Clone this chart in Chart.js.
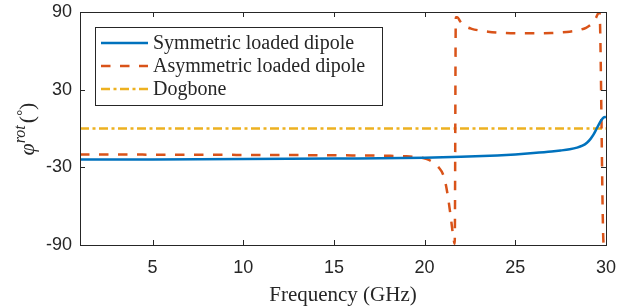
<!DOCTYPE html>
<html>
<head>
<meta charset="utf-8">
<script src="https://cdn.jsdelivr.net/npm/chart.js@4.4.1/dist/chart.umd.min.js"></script>
<style>
  html, body { margin: 0; padding: 0; background: #fff; }
  canvas { display: block; }
</style>
</head>
<body>
<canvas id="rotChart" width="638" height="308"></canvas>
<script>
// values (frequency in GHz, rotation angle in degrees)
const symFreq  = [1, 5, 10, 15, 20, 22, 24, 25, 26, 27, 27.5, 28, 28.4, 28.7, 28.95, 29.15, 29.3, 29.45, 29.6, 29.75, 29.87, 30];
const symPhase = [-24, -23.9, -23.6, -23.2, -22.6, -21.9, -20.8, -20, -19, -17.8, -17, -16, -14.8, -13.3, -11, -8, -5, -1, 3, 6.5, 8.5, 9];

const asymFreq  = [1, 3, 5, 8, 10, 12, 14, 16, 18, 19, 19.5, 19.9, 20.2, 20.5, 20.8, 21.0, 21.15, 21.3, 21.4, 21.5, 21.58, 21.66,
                   21.72, 21.8, 21.95, 22.1, 22.3, 22.6, 23, 23.5, 24, 25, 26, 27, 27.5, 28, 28.5, 28.9, 29.1, 29.3, 29.45, 29.55, 29.64, 29.87, 30];
const asymPhase = [-20, -20.1, -20.2, -20.3, -20.4, -20.5, -20.6, -20.8, -21.1, -21.5, -22, -22.8, -24, -26.5, -30.5, -35, -42, -54, -64, -75, -84, -89,
                   86, 86, 83, 80.5, 78.5, 77, 75.8, 74.8, 74.2, 73.6, 73.5, 73.8, 74.2, 74.8, 76, 77.8, 79.5, 82, 85.5, 88.5, 90, -89, -90];

const dogFreq  = [1, 30];
const dogPhase = [0, 0];

const xTicks = [5, 10, 15, 20, 25, 30];
const yTicks = [-90, -30, 30, 90];

const seriesNames = ['Symmetric loaded dipole', 'Asymmetric loaded dipole', 'Dogbone'];
const seriesColors = ['#0072BD', '#D95319', '#EDB120'];
const seriesDash = [[], [9.5, 9.5], [9, 3.5, 3, 3.5]];

const axisColor = '#262626';

function toPoints(xs, ys) {
    return xs.map((x, i) => ({ x: x, y: ys[i] }));
}

// box around the axes plus inward tick marks on all four sides
const boxPlugin = {
    id: 'matlabBox',
    afterDatasetsDraw(chart) {
        const ctx = chart.ctx;
        const a = chart.chartArea;
        const xs = chart.scales.x;
        const ys = chart.scales.y;
        const tl = 5;
        ctx.save();
        ctx.strokeStyle = axisColor;
        ctx.lineWidth = 1;
        ctx.beginPath();
        xTicks.forEach(v => {
            const px = Math.round(xs.getPixelForValue(v)) + 0.5;
            ctx.moveTo(px, a.bottom); ctx.lineTo(px, a.bottom - tl);
            ctx.moveTo(px, a.top); ctx.lineTo(px, a.top + tl);
        });
        yTicks.forEach(v => {
            const py = Math.round(ys.getPixelForValue(v)) + 0.5;
            ctx.moveTo(a.left, py); ctx.lineTo(a.left + tl, py);
            ctx.moveTo(a.right, py); ctx.lineTo(a.right - tl, py);
        });
        ctx.stroke();
        ctx.strokeRect(Math.round(a.left) + 0.5, Math.round(a.top) + 0.5,
                       Math.round(a.right - a.left), Math.round(a.bottom - a.top));
        ctx.restore();
    }
};

// legend box in the upper-left corner of the axes
const legendPlugin = {
    id: 'boxLegend',
    afterDraw(chart) {
        const ctx = chart.ctx;
        const left = 95, top = 27, w = 287, h = 78;
        const rows = [43, 66, 89];
        ctx.save();
        ctx.fillStyle = '#fff';
        ctx.fillRect(left, top, w, h);
        ctx.strokeStyle = axisColor;
        ctx.lineWidth = 1;
        ctx.strokeRect(left + 0.5, top + 0.5, w, h);
        seriesNames.forEach((name, i) => {
            ctx.strokeStyle = seriesColors[i];
            ctx.lineWidth = 2.5;
            ctx.setLineDash(seriesDash[i]);
            ctx.beginPath();
            ctx.moveTo(101, rows[i]);
            ctx.lineTo(148, rows[i]);
            ctx.stroke();
            ctx.setLineDash([]);
            ctx.fillStyle = axisColor;
            ctx.font = '20px "Liberation Serif", "Times New Roman", serif';
            ctx.textBaseline = 'middle';
            ctx.textAlign = 'left';
            ctx.fillText(name, 153, rows[i] + 1);
        });
        ctx.restore();
    }
};

// y label: phi^rot (degree), rotated
const yLabelPlugin = {
    id: 'yLabel',
    afterDraw(chart) {
        const ctx = chart.ctx;
        const big = '22px "Liberation Serif", "Times New Roman", serif';
        const bigIt = 'italic 22px "Liberation Serif", "Times New Roman", serif';
        const smallIt = 'italic 16px "Liberation Serif", "Times New Roman", serif';
        const small = '15px "Liberation Serif", "Times New Roman", serif';
        const parts = [
            { t: '\u03C6', f: bigIt, dy: 0 },
            { t: 'rot', f: smallIt, dy: -9 },
            { t: '(', f: big, dy: 0 },
            { t: '\u00B0', f: small, dy: -7 },
            { t: ')', f: big, dy: 0 }
        ];
        ctx.save();
        let total = 0;
        parts.forEach(p => { ctx.font = p.f; p.w = ctx.measureText(p.t).width; total += p.w; });
        total += 2;
        ctx.translate(34, 129 + total / 2);
        ctx.rotate(-Math.PI / 2);
        ctx.fillStyle = axisColor;
        ctx.textBaseline = 'alphabetic';
        let x = 0;
        parts.forEach((p, i) => {
            ctx.font = p.f;
            ctx.fillText(p.t, x, p.dy);
            x += p.w + (i === 1 ? 2 : 0);
        });
        ctx.restore();
    }
};

const ctx = document.getElementById('rotChart').getContext('2d');
const rotChart = new Chart(ctx, {
    type: 'line',
    data: {
        datasets: [
            {
                label: seriesNames[0],
                data: toPoints(symFreq, symPhase),
                borderColor: seriesColors[0],
                borderWidth: 2.5,
                borderDash: seriesDash[0],
                pointRadius: 0,
                cubicInterpolationMode: 'monotone',
                fill: false
            },
            {
                label: seriesNames[1],
                data: toPoints(asymFreq, asymPhase),
                borderColor: seriesColors[1],
                borderWidth: 2.5,
                borderDash: seriesDash[1],
                pointRadius: 0,
                cubicInterpolationMode: 'monotone',
                fill: false
            },
            {
                label: seriesNames[2],
                data: toPoints(dogFreq, dogPhase),
                borderColor: seriesColors[2],
                borderWidth: 2.5,
                borderDash: seriesDash[2],
                pointRadius: 0,
                fill: false
            }
        ]
    },
    options: {
        responsive: false,
        animation: false,
        devicePixelRatio: 1,
        layout: { padding: { top: 12, right: 32, bottom: 0, left: 0 } },
        plugins: {
            legend: { display: false },
            tooltip: { enabled: false }
        },
        scales: {
            x: {
                type: 'linear',
                min: 1,
                max: 30,
                grid: { display: false, drawTicks: false },
                border: { display: false },
                afterBuildTicks: scale => { scale.ticks = xTicks.map(v => ({ value: v })); },
                afterFit: scale => {
                    scale.height = 63;
                    scale.paddingLeft = 0;
                    scale.paddingRight = 0;
                },
                ticks: {
                    padding: 12,
                    color: axisColor,
                    font: { family: '"Liberation Sans", Arial, sans-serif', size: 18 }
                },
                title: {
                    display: true,
                    text: 'Frequency (GHz)',
                    color: axisColor,
                    padding: { top: 0, bottom: 0 },
                    font: { family: '"Liberation Serif", "Times New Roman", serif', size: 21 }
                }
            },
            y: {
                type: 'linear',
                min: -90,
                max: 90,
                grid: { display: false, drawTicks: false },
                border: { display: false },
                afterBuildTicks: scale => { scale.ticks = yTicks.map(v => ({ value: v })); },
                afterFit: scale => {
                    scale.width = 80;
                    scale.paddingTop = 0;
                    scale.paddingBottom = 0;
                },
                ticks: {
                    padding: 8,
                    color: axisColor,
                    font: { family: '"Liberation Sans", Arial, sans-serif', size: 18 }
                }
            }
        }
    },
    plugins: [boxPlugin, legendPlugin, yLabelPlugin]
});
</script>
</body>
</html>
